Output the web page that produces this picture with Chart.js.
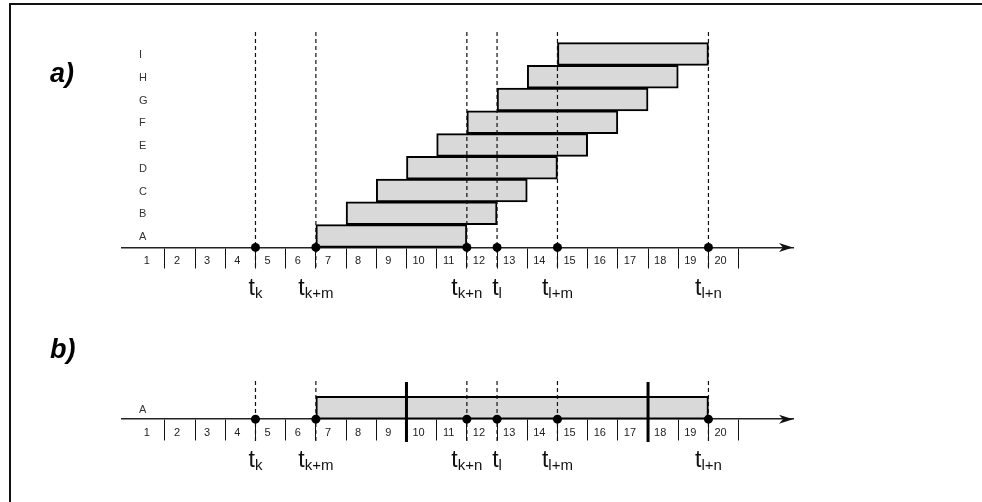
<!DOCTYPE html>
<html><head><meta charset="utf-8">
<script src="https://cdn.jsdelivr.net/npm/chart.js@4.4.1/dist/chart.umd.min.js"></script>
<style>
html,body{margin:0;padding:0;background:#fff;}
#wrap{position:relative;width:982px;height:502px;overflow:hidden;}
#frame{position:absolute;left:9px;top:3px;right:-20px;bottom:-20px;border-top:2px solid #111;border-left:2px solid #111;pointer-events:none;}
canvas{position:absolute;left:0;top:0;}
</style></head><body>
<div id="wrap"><canvas id="c" width="982" height="502"></canvas><div id="frame"></div></div>
<script>
// ---- data ----
const cells = ['1','2','3','4','5','6','7','8','9','10','11','12','13','14','15','16','17','18','19','20'];
const rows = ['A','B','C','D','E','F','G','H','I'];
const rowStart = [6,7,8,9,10,11,12,13,14];
const rowEnd   = [11,12,13,14,15,16,17,18,19];
const mergedRow = 'A';
const mergedStart = 6;
const mergedEnd = 19;
const dividers = [9,17];
const markerValues = [4,6,11,12,14,19];
const markerMain = ['t','t','t','t','t','t'];
const markerSubs = ['k','k+m','k+n','l','l+m','l+n'];
const panelLabels = ['a)','b)'];

// ---- layout (row units on y, time units on x) ----
const aAxisY = -0.5, bRowY = -7.55, bAxisY = -8.05;
const aDash = [8.97, -1.41], bDash = [-6.37, -9.01], divSpan = [-6.42, -9.05];
const FONT = '"Liberation Sans", Arial, sans-serif';
Chart.defaults.font.family = FONT;

function xAxis(axisVal, tickLen, pad) {
  return {
    type:'linear', axis:'x', position:{y: axisVal}, min:-0.42, max:21.8, offset:false,
    afterBuildTicks: s => { s.ticks = cells.map((c,i) => ({value: i + 0.5})); },
    ticks:{ autoSkip:false, maxRotation:0, padding:pad, labelOffset:-3, color:'#222',
            font:{size:11, family:FONT}, callback:(v,i) => cells[i] },
    grid:{ drawOnChartArea:false, drawTicks:true, tickLength:tickLen, offset:true, lineWidth:1,
           color: c => c.index === 0 ? 'rgba(0,0,0,0)' : '#111' },
    border:{ display:true, color:'#222', width:1.5 }
  };
}

const datasets = [];
datasets.push({ type:'line', label:'marks a', xAxisID:'xa', yAxisID:'y', order:0,
  data: markerValues.map(v => ({x:v, y:aAxisY})), showLine:false,
  pointRadius:4.5, pointBackgroundColor:'#000', pointBorderWidth:0, clip:false });
datasets.push({ type:'line', label:'marks b', xAxisID:'xb', yAxisID:'y', order:0,
  data: markerValues.map(v => ({x:v, y:bAxisY})), showLine:false,
  pointRadius:4.5, pointBackgroundColor:'#000', pointBorderWidth:0, clip:false });
markerValues.forEach(v => {
  datasets.push({ type:'line', xAxisID:'xa', yAxisID:'y', order:1, clip:false,
    data:[{x:v, y:aDash[0]}, {x:v, y:aDash[1]}], borderColor:'#111', borderWidth:1.2,
    borderDash:[4,3], pointRadius:0 });
  datasets.push({ type:'line', xAxisID:'xb', yAxisID:'y', order:1, clip:false,
    data:[{x:v, y:bDash[0]}, {x:v, y:bDash[1]}], borderColor:'#111', borderWidth:1.2,
    borderDash:[4,3], pointRadius:0 });
});
dividers.forEach(v => {
  datasets.push({ type:'line', xAxisID:'xb', yAxisID:'y', order:2, clip:false,
    data:[{x:v, y:divSpan[0]}, {x:v, y:divSpan[1]}], borderColor:'#000', borderWidth:3,
    pointRadius:0 });
});
datasets.push({ type:'bar', label:'a', indexAxis:'y', xAxisID:'xa', yAxisID:'y', order:3,
  data: rows.map((r,i) => ({x:[rowStart[i], rowEnd[i]], y:i})),
  backgroundColor:'#d9d9d9', borderColor:'#000', borderWidth:2, borderSkipped:false,
  barPercentage:1, categoryPercentage:1, grouped:false, clip:false });
datasets.push({ type:'bar', label:'b', indexAxis:'y', xAxisID:'xb', yAxisID:'y', order:3,
  data: [{x:[mergedStart, mergedEnd], y:bRowY}],
  backgroundColor:'#d9d9d9', borderColor:'#000', borderWidth:2, borderSkipped:false,
  barPercentage:1, categoryPercentage:1, grouped:false, clip:false });

const textPlugin = {
  id:'texts',
  afterDraw(chart) {
    const ctx = chart.ctx, xa = chart.scales.xa, xb = chart.scales.xb, y = chart.scales.y;
    ctx.save();
    ctx.fillStyle = '#000';
    ctx.textAlign = 'left';
    ctx.textBaseline = 'alphabetic';
    ctx.font = 'italic bold 27px ' + FONT;
    ctx.fillText(panelLabels[0], 50, 82);
    ctx.fillText(panelLabels[1], 50, 358);
    // row labels
    ctx.font = '11px ' + FONT;
    ctx.fillStyle = '#333';
    ctx.textBaseline = 'middle';
    rows.forEach((r,i) => ctx.fillText(r, xa.left + 17, y.getPixelForValue(i) + 1));
    ctx.fillText(mergedRow, xb.left + 17, y.getPixelForValue(bRowY) + 2);
    // arrow heads
    [[xa, aAxisY], [xb, bAxisY]].forEach(([s, v]) => {
      const py = y.getPixelForValue(v), px = s.right;
      ctx.beginPath();
      ctx.moveTo(px, py); ctx.lineTo(px - 14, py - 4.5); ctx.lineTo(px - 10, py);
      ctx.lineTo(px - 14, py + 4.5); ctx.closePath();
      ctx.fillStyle = '#111'; ctx.fill();
    });
    // t labels
    ctx.fillStyle = '#111';
    ctx.textBaseline = 'alphabetic';
    [[xa, aAxisY], [xb, bAxisY]].forEach(([s, v]) => {
      const base = y.getPixelForValue(v) + 48;
      markerValues.forEach((m, i) => {
        const px = s.getPixelForValue(m);
        ctx.font = '23px ' + FONT;
        const w1 = ctx.measureText(markerMain[i]).width;
        ctx.font = '15px ' + FONT;
        const w2 = ctx.measureText(markerSubs[i]).width;
        const x0 = px - (w1 + w2) / 2;
        ctx.font = '23px ' + FONT;
        ctx.fillText(markerMain[i], x0, base);
        ctx.font = '15px ' + FONT;
        ctx.fillText(markerSubs[i], x0 + w1, base + 2.5);
      });
    });
    ctx.restore();
  }
};

new Chart(document.getElementById('c'), {
  type:'bar',
  data:{ datasets },
  options:{
    responsive:false, animation:false, events:[],
    layout:{ padding:{ left:122, right:189, top:8.5, bottom:15.75 } },
    plugins:{ legend:{display:false}, tooltip:{enabled:false} },
    scales:{
      y:{ type:'linear', axis:'y', display:false, min:-11, max:10, offset:false,
          ticks:{stepSize:1}, grid:{offset:false} },
      xa: xAxis(aAxisY, 20, -13),
      xb: xAxis(bAxisY, 21, -14)
    }
  },
  plugins:[textPlugin]
});
</script>
</body></html>
